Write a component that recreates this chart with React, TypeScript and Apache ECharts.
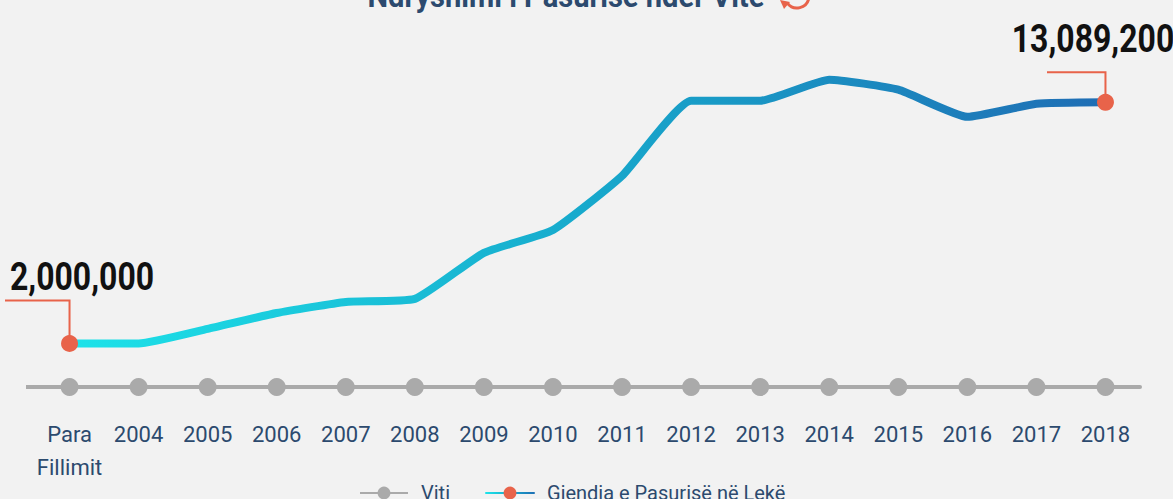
import React, { useEffect, useRef } from "react";
import * as echarts from "echarts";

const categories = ["Para\nFillimit", "2004", "2005", "2006", "2007", "2008", "2009", "2010", "2011", "2012", "2013", "2014", "2015", "2016", "2017", "2018"];
const wealthValues = [2000000, 2000000, 2670000, 3400000, 3910000, 4050000, 6170000, 7220000, 9710000, 13160000, 13160000, 14130000, 13670000, 12420000, 13020000, 13089200];
const yearBase = categories.map(() => 0);
const calloutLabels = ["2,000,000", "13,089,200"];
const titleText = "Ndryshimi i Pasurisë ndër Vite";
const seriesNames = ["Viti", "Gjendia e Pasurisë në Lekë"];

const FONT = "Roboto, 'Noto Sans', sans-serif";
const NAVY = "#2c4a6e";
const RED = "#e8634a";
const GRAY = "#aaaaaa";

export default function App() {
  const ref = useRef<HTMLDivElement>(null);
  useEffect(() => {
    if (!ref.current) return;
    const chart = echarts.init(ref.current, undefined, { renderer: "svg" });
    const lastIdx = wealthValues.length - 1;
    const stops = [
      { offset: 0, color: "#1de3e9" },
      { offset: 0.5, color: "#17a9cc" },
      { offset: 1, color: "#1f6db4" },
    ];
    const gradient = new echarts.graphic.LinearGradient(0, 0, 1, 0, stops);
    const legendGradient = new echarts.graphic.LinearGradient(0, 0, 50, 0, stops, true);
    chart.setOption({
      animation: false,
      backgroundColor: "#f2f2f2",
      textStyle: { fontFamily: FONT },
      grid: { left: 35, right: 33, top: 39, bottom: 112 },
      legend: {
        bottom: -9,
        left: 354,
        itemWidth: 48,
        itemHeight: 16,
        itemGap: 35,
        textStyle: { fontFamily: FONT, fontSize: 20, color: NAVY, padding: [0, 0, 0, 8] },
        data: [
          { name: seriesNames[0] },
          { name: seriesNames[1], lineStyle: { color: legendGradient } },
        ],
      },
      xAxis: {
        type: "category",
        data: categories,
        boundaryGap: true,
        axisLine: { show: true, lineStyle: { color: GRAY, width: 4 } },
        axisTick: { show: false },
        axisLabel: {
          interval: 0,
          color: NAVY,
          fontSize: 22,
          fontFamily: FONT,
          margin: 31,
          lineHeight: 33,
          verticalAlign: "top",
        },
      },
      yAxis: { type: "value", min: 0, max: 16000000, show: false, splitLine: { show: false } },
      series: [
        {
          name: seriesNames[0],
          type: "line",
          data: yearBase,
          symbol: "circle",
          symbolSize: 18,
          itemStyle: { color: GRAY },
          lineStyle: { color: GRAY, width: 4 },
          z: 2,
        },
        {
          name: seriesNames[1],
          type: "line",
          smooth: 0.15,
          data: wealthValues.map((v, i) =>
            i === 0 || i === lastIdx ? { value: v } : { value: v, symbol: "none" }
          ),
          symbol: "circle",
          symbolSize: 17,
          itemStyle: { color: RED },
          lineStyle: { color: gradient, width: 8, cap: "round", join: "round" },
          z: 3,
        },
      ],
    });

    const p0 = chart.convertToPixel({ seriesIndex: 1 }, [0, wealthValues[0]]) as number[];
    const pN = chart.convertToPixel({ seriesIndex: 1 }, [lastIdx, wealthValues[lastIdx]]) as number[];
    const axis0 = chart.convertToPixel({ seriesIndex: 0 }, [0, 0]) as number[];
    chart.setOption({
      graphic: [
        {
          type: "line",
          shape: { x1: 26, y1: axis0[1], x2: 40, y2: axis0[1] },
          style: { stroke: GRAY, lineWidth: 4 },
          z: 0,
        },
        {
          type: "text",
          x: 566,
          y: -4,
          scaleX: 0.91,
          style: { text: titleText, font: `bold 32px ${FONT}`, fill: NAVY, textAlign: "center", textVerticalAlign: "middle" },
        },
        {
          type: "arc",
          shape: { cx: 797, cy: -4, r: 12, startAngle: 0.15, endAngle: 2.5 },
          style: { stroke: RED, lineWidth: 3, fill: "none" },
        },
        {
          type: "polygon",
          shape: { points: [[780, 0], [790, 2], [784, 9]] },
          style: { fill: RED },
        },
        {
          type: "polyline",
          shape: { points: [[p0[0], p0[1]], [p0[0], p0[1] - 43], [5, p0[1] - 43]] },
          style: { stroke: RED, lineWidth: 2, fill: "none" },
          z: 1,
        },
        {
          type: "text",
          x: 82,
          y: p0[1] - 67,
          scaleX: 0.82,
          style: { text: calloutLabels[0], font: `bold 39px ${FONT}`, fill: "#111111", textAlign: "center", textVerticalAlign: "middle" },
        },
        {
          type: "polyline",
          shape: { points: [[pN[0], pN[1]], [pN[0], pN[1] - 30], [1047, pN[1] - 30]] },
          style: { stroke: RED, lineWidth: 2, fill: "none" },
          z: 1,
        },
        {
          type: "text",
          x: 1093,
          y: pN[1] - 63,
          scaleX: 0.82,
          style: { text: calloutLabels[1], font: `bold 39px ${FONT}`, fill: "#111111", textAlign: "center", textVerticalAlign: "middle" },
        },
      ],
    });
    return () => chart.dispose();
  }, []);
  return <div ref={ref} style={{ position: "fixed", left: 0, top: 0, width: 1173, height: 499 }} />;
}
